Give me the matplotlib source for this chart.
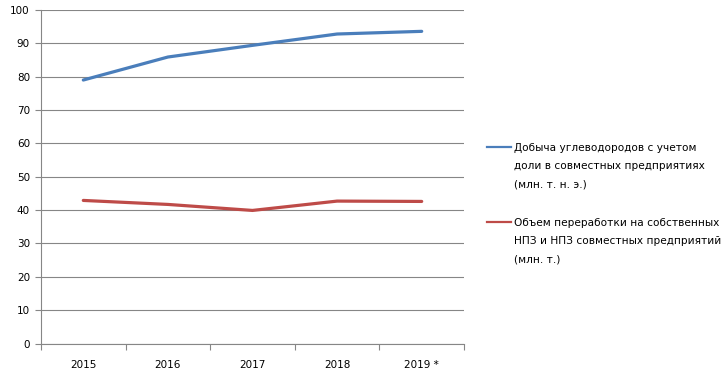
import matplotlib
matplotlib.use("Agg")
import matplotlib.pyplot as plt
from matplotlib.lines import Line2D
import numpy as np

years = ["2015", "2016", "2017", "2018", "2019 *"]
production = [79.0, 85.9, 89.4, 92.8, 93.6]
refining = [42.9, 41.7, 39.9, 42.7, 42.6]
label_prod = "Добыча углеводородов с учетом\nдоли в совместных предприятиях\n(млн. т. н. э.)"
label_ref = "Объем переработки на собственных\nНПЗ и НПЗ совместных предприятий\n(млн. т.)"

W, H = 727, 378
plt.rcParams['font.family'] = ['DejaVu Sans']
fig = plt.figure(figsize=(W/100, H/100), dpi=100)
ax = fig.add_axes([41/W, 1 - 343.5/H, (464-41)/W, (343.5-10)/H])

x = np.arange(len(years)) + 0.5
l1, = ax.plot(x, production, color="#4A7EBB", lw=2.3, solid_capstyle='round')
l2, = ax.plot(x, refining, color="#BE4B48", lw=2.3, solid_capstyle='round')

ax.set_xlim(0, len(years))
ax.set_ylim(0, 100)
ax.set_yticks(np.arange(0, 101, 10))
ax.set_xticks(np.arange(0, len(years) + 1))
ax.set_xticklabels([])
ax.set_xticks(x, minor=True)
ax.set_xticklabels(years, minor=True)
ax.tick_params(axis='x', which='minor', length=0, pad=12, labelsize=7.5)
ax.tick_params(axis='x', which='major', length=4, color="#868686", direction='out')
ax.tick_params(axis='y', length=4, color="#868686", labelsize=7.5, pad=4)
ax.grid(axis='y', color="#868686", lw=0.8)
ax.set_axisbelow(True)
for s in ['top', 'right']:
    ax.spines[s].set_visible(False)
for s in ['left', 'bottom']:
    ax.spines[s].set_color("#868686")
    ax.spines[s].set_linewidth(0.8)

# legend drawn manually (handle aligned with first text line)
for line, label, ytop in [(l1, label_prod, 147), (l2, label_ref, 222)]:
    fig.add_artist(Line2D([487/W, 511/W], [1 - ytop/H, 1 - ytop/H], color=line.get_color(), lw=1.6,
                          transform=fig.transFigure))
    fig.text(514/W, 1 - (ytop - 4)/H, label, fontsize=7.6, va='top', ha='left', linespacing=2.0)

fig.savefig("out.png", dpi=100)
